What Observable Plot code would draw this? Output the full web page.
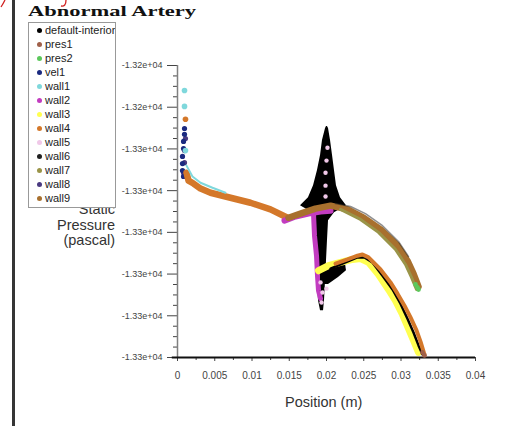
<!DOCTYPE html>
<html><head><meta charset="utf-8">
<script src="https://cdn.jsdelivr.net/npm/d3@7"></script>
<script src="https://cdn.jsdelivr.net/npm/@observablehq/plot@0.6"></script>
<style>
body{margin:0;background:#fff;}
#wrap{position:relative;width:523px;height:426px;overflow:hidden;font-family:"Liberation Sans",Arial,sans-serif;background:#fff;}
#chart{position:absolute;left:0;top:0;}
.border{position:absolute;left:12px;top:0;width:3px;height:426px;background:#353535;}
#marks{position:absolute;left:0;top:0;}
#title{position:absolute;left:28px;top:4px;font-family:"Liberation Serif","Times New Roman",serif;font-weight:bold;font-size:15px;line-height:15px;transform:scaleX(1.5);transform-origin:left top;color:#111;white-space:nowrap;}
#legend{position:absolute;left:28px;top:22px;width:86px;height:184px;border:1px solid #999;background:#fff;overflow:hidden;}
.row{position:absolute;left:0;width:120px;height:14px;line-height:14px;font-size:11px;color:#222;white-space:nowrap;}
.dot{position:absolute;left:8px;top:5px;width:5px;height:5px;border-radius:50%;}
.lab{position:absolute;left:16px;top:0;}
#ylab{position:absolute;right:408px;top:202px;text-align:right;font-size:14.5px;line-height:15.5px;color:#333;}
#xlab{position:absolute;left:285px;top:394px;font-size:14.5px;line-height:16px;color:#333;white-space:nowrap;}
</style></head>
<body>
<div id="wrap">
  <div id="chart"></div>
  <div class="border"></div>
  <svg id="marks" width="80" height="10"><path d="M1,7 Q3,4 5,0" fill="none" stroke="#d02020" stroke-width="1.3"/><path d="M66,0 Q66,7 61,6" fill="none" stroke="#d02020" stroke-width="1.3"/></svg>
  <div id="title">Abnormal Artery</div>
  <div id="ylab">Static<br>Pressure<br>(pascal)</div>
  <div id="legend"></div>
  <div id="xlab">Position (m)</div>
</div>
<script>
// ---- series names and colours ----
const series = ["default-interior","pres1","pres2","vel1","wall1","wall2","wall3","wall4","wall5","wall6","wall7","wall8","wall9"];
const colors = ["#000000","#a0604a","#5cc85c","#1a2a80","#7fd8dc","#c23cc0","#ffff50","#d4782a","#f0c8e8","#202020","#9a9448","#4a3a80","#a8702e"];

// ---- axis ticks ----
const xTicks = [0,0.005,0.01,0.015,0.02,0.025,0.03,0.035,0.04];
const xTickLabels = ["0","0.005","0.01","0.015","0.02","0.025","0.03","0.035","0.04"];
const xMinor = [0.0025,0.0075,0.0125,0.0175,0.0225,0.0275,0.0325,0.0375];
const yTicks = [-13240,-13250,-13260,-13270,-13280,-13290,-13300,-13310];
const yTickLabels = ["-1.32e+04","-1.32e+04","-1.33e+04","-1.33e+04","-1.33e+04","-1.33e+04","-1.33e+04","-1.33e+04"];
const yMinor = [-13242.5,-13245,-13247.5,-13252.5,-13255,-13257.5,-13262.5,-13265,-13267.5,-13272.5,-13275,-13277.5,-13282.5,-13285,-13287.5,-13292.5,-13295,-13297.5,-13302.5,-13305,-13307.5];

// ---- data: [position (m), static pressure (Pa)] ----
// default-interior: spike band [pressure, x left, x right]
const interiorSpike = [
 [-13254.6,0.02000,0.02013],[-13255.1,0.01987,0.02027],[-13258.0,0.01946,0.02054],[-13261.6,0.0192,0.02081],
 [-13265.2,0.01879,0.02107],[-13268.8,0.01826,0.02134],[-13271.7,0.01758,0.02188],[-13273.6,0.01651,0.02268],
 [-13275.3,0.01812,0.02107],[-13277.2,0.01852,0.02027],[-13282.0,0.01866,0.02013],[-13286.8,0.01866,0.0200],
 [-13291.6,0.01879,0.01987],[-13296.4,0.01893,0.01973],[-13298.8,0.0192,0.0196]
];
const interiorBlob = [
 [-13287.5,0.02054,0.02255],[-13289.2,0.0192,0.02268],[-13290.8,0.0192,0.02161],[-13292.5,0.0192,0.02027]
];
const interiorLower = [
 [0.02054,-13288.7],[0.02255,-13287.2],[0.02416,-13286.0],[0.0251,-13286.0],[0.02617,-13287.2],[0.02752,-13290.4],
 [0.02886,-13293.7],[0.02993,-13297.1],[0.03087,-13300.7],[0.03168,-13304.0],[0.03235,-13307.1],[0.03289,-13309.3]
];
const pres1 = [[0.03289,-13308.8],[0.03315,-13309.5]];
const pres2 = [[0.03195,-13292.5],[0.03221,-13293.2],[0.03235,-13293.7]];
const vel1 = [[0.00094,-13255.1],[0.00094,-13256.5],[0.00081,-13258.2],[0.00081,-13259.9],[0.00067,-13261.8],[0.00067,-13263.5],[0.00067,-13265.2],[0.00081,-13266.6]];
const wall1Dots = [[0.00094,-13246.0],[0.00094,-13249.8],[0.00107,-13260.4]];
const wall1Line = [[0.00121,-13264.0],[0.00201,-13266.6],[0.00309,-13268.1],[0.0047,-13269.3],[0.00644,-13270.5]];
const wall2Top = [[0.01436,-13277.2],[0.01584,-13276.2],[0.01758,-13275.5],[0.0192,-13275.0],[0.02054,-13274.8]];
const wall2Down = [[0.01826,-13275.7],[0.01839,-13280.8],[0.01866,-13285.6],[0.01879,-13290.4],[0.01893,-13294.0],[0.0192,-13295.9]];
const wall3 = [
 [0.01893,-13289.2],[0.02027,-13288.0],[0.02188,-13287.2],[0.02349,-13286.5],[0.02456,-13286.3],[0.02564,-13287.2],
 [0.02698,-13290.1],[0.02832,-13293.7],[0.02926,-13296.4],[0.0302,-13299.7],[0.03101,-13303.1],[0.03168,-13305.9],[0.03235,-13308.8]
];
const wall4Dots = [[0.00107,-13252.9]];
const wall4Line = [
 [0.00121,-13265.7],[0.00148,-13267.6],[0.00215,-13268.3],[0.00309,-13269.5],[0.00443,-13270.5],
 [0.00711,-13271.7],[0.0098,-13272.9],[0.01248,-13274.5],[0.01477,-13276.5]
];
const wall4Lower = [
 [0.02121,-13287.5],[0.02282,-13286.5],[0.02416,-13285.6],[0.02483,-13285.3],[0.02564,-13286.0],[0.02725,-13288.9],
 [0.02859,-13292.0],[0.02953,-13294.7],[0.03047,-13297.6],[0.03128,-13300.4],[0.03208,-13303.5],[0.03262,-13306.2],[0.03315,-13309.3]
];
const wall5 = [[0.02013,-13259.7],[0.0200,-13262.8],[0.01987,-13265.7],[0.01987,-13268.8],[0.01987,-13271.4],
 [0.0192,-13292.0],[0.01946,-13294.4],[0.01933,-13296.8],[0.0200,-13293.5]];
const wall6 = [[0.02121,-13273.1],[0.02322,-13273.8],[0.02523,-13275.5],[0.02752,-13278.4],[0.02966,-13282.2],[0.03101,-13285.8]];
const wall7 = [[0.02188,-13274.5],[0.02456,-13276.9],[0.02698,-13280.0],[0.02926,-13284.1],[0.0306,-13287.7],[0.03141,-13290.8],[0.03208,-13293.7]];
const wall8 = [[0.00107,-13257.5],[0.00094,-13260.4],[0.00094,-13263.3],[0.00081,-13265.7]];
const wall9 = [
 [0.0149,-13276.5],[0.01651,-13275.5],[0.01852,-13274.3],[0.02054,-13273.6],[0.02282,-13274.5],[0.02497,-13276.5],
 [0.02725,-13279.3],[0.02953,-13283.2],[0.03087,-13286.8],[0.03168,-13289.9],[0.03235,-13293.0]
];

const C = Object.fromEntries(series.map((s,i)=>[s,colors[i]]));
const X = d=>d[0], Y = d=>d[1];
const line = (data, color, w, extra={}) => Plot.line(data, {x:X, y:Y, stroke:color, strokeWidth:w, strokeLinecap:"round", strokeLinejoin:"round", ...extra});
const dots = (data, color, r=2.6) => Plot.dot(data, {x:X, y:Y, r, fill:color, stroke:"none"});

const chart = Plot.plot({
  width:523, height:426,
  marginLeft:177, marginRight:48, marginTop:65, marginBottom:69,
  style:{fontFamily:"'Liberation Sans', Arial, sans-serif", background:"transparent", color:"#444"},
  x:{domain:[0,0.04]},
  y:{domain:[-13310,-13240]},
  marks:[
    Plot.axisY(yTicks, {tickSize:10, tickPadding:5, fontSize:9, label:null, tickFormat:d=>yTickLabels[yTicks.indexOf(d)]}),
    Plot.axisY(yMinor, {tickSize:4, label:null, tickFormat:()=>""}),
    Plot.axisX(xTicks, {tickSize:4, tickPadding:10, fontSize:10, label:null, tickFormat:d=>xTickLabels[xTicks.indexOf(d)]}),
    Plot.axisX(xMinor, {tickSize:3, label:null, tickFormat:()=>""}),
    Plot.ruleX([0], {y1:-13310, y2:-13240, stroke:"#808080", strokeWidth:1.5}),
    Plot.ruleY([-13310], {x1:-0.0007, x2:0.04, stroke:"#111", strokeWidth:2}),
    dots(wall8, C.wall8),
    dots(vel1, C.vel1),
    dots(wall1Dots, C.wall1, 2.8),
    dots(wall4Dots, C.wall4, 2.8),
    line(wall4Line, C.wall4, 6.5),
    line(wall1Line, C.wall1, 2),
    Plot.areaX(interiorSpike, {y:d=>d[0], x1:d=>d[1], x2:d=>d[2], fill:C["default-interior"]}),
    line(wall2Top, C.wall2, 6),
    line(wall2Down, C.wall2, 5),
    line(wall9, C.wall9, 6.5),
    line(wall7, C.wall7, 3),
    line(wall6, C.wall6, 1.5, {strokeOpacity:0.5}),
    dots(pres2, C.pres2, 2.4),
    Plot.areaX(interiorBlob, {y:d=>d[0], x1:d=>d[1], x2:d=>d[2], fill:C["default-interior"]}),
    line(wall3, C.wall3, 7),
    line(interiorLower, C["default-interior"], 2.5),
    line(wall4Lower, C.wall4, 4),
    dots(pres1, C.pres1, 2.4),
    dots(wall5, C.wall5, 2.2)
  ]
});
document.getElementById("chart").appendChild(chart);

// legend
const leg = document.getElementById("legend");
series.forEach((s,i)=>{
  const row = document.createElement("div");
  row.className = "row";
  row.style.top = (14*i) + "px";
  row.innerHTML = `<span class="dot" style="background:${colors[i]}"></span><span class="lab">${s}</span>`;
  leg.appendChild(row);
});
</script>
</body></html>
